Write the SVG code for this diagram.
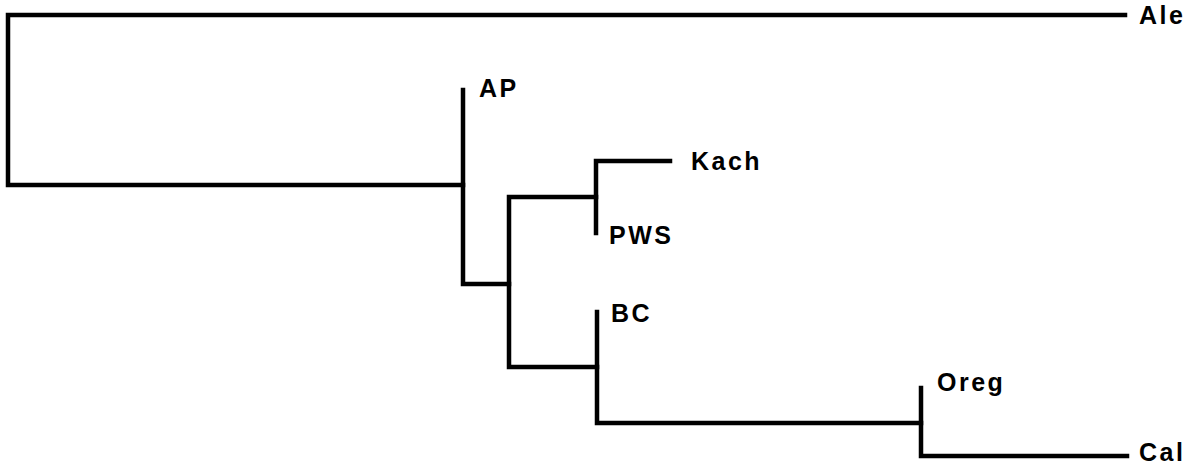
<svg xmlns="http://www.w3.org/2000/svg" width="1201" height="473" viewBox="0 0 1201 473">
<style>
.e{fill:none;stroke:#000;stroke-width:4.5;stroke-linecap:square;stroke-linejoin:miter}
.t{font-family:"Liberation Sans",Arial,Helvetica,sans-serif;font-weight:bold;font-size:25px;letter-spacing:2.5px;fill:#000}
</style>
<rect width="1201" height="473" fill="#fff"/>
<g id="connectors">
<path class="e" d="M1125,15 H8 V185 H463"/>
<path class="e" d="M463,90 V284 H509"/>
<path class="e" d="M596,197 H509 V367 H597"/>
<path class="e" d="M670,161 H596 V233"/>
<path class="e" d="M597,312 V423 H921"/>
<path class="e" d="M921,388 V456 H1127"/>
</g>
<g id="Ale"><text class="t" x="1139" y="24">Ale</text></g>
<g id="AP"><text class="t" x="479" y="97">AP</text></g>
<g id="Kach"><text class="t" x="691" y="170">Kach</text></g>
<g id="PWS"><text class="t" x="609" y="244">PWS</text></g>
<g id="BC"><text class="t" x="611" y="322">BC</text></g>
<g id="Oreg"><text class="t" x="937" y="391">Oreg</text></g>
<g id="Cal"><text class="t" x="1139" y="461">Cal</text></g>
</svg>
